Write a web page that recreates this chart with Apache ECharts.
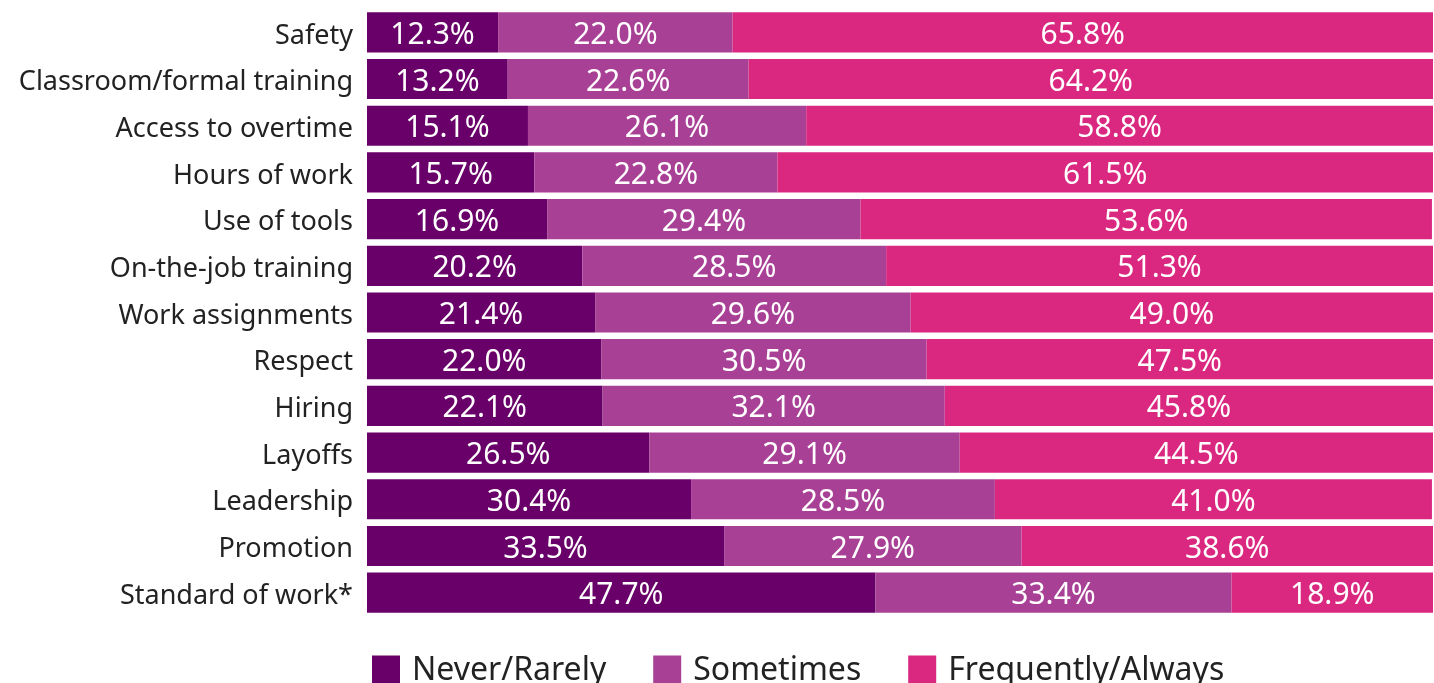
<!DOCTYPE html>
<html><head><meta charset="utf-8">
<script src="https://cdn.jsdelivr.net/npm/echarts@6/dist/echarts.min.js"></script>
<style>html,body{margin:0;padding:0;background:#fff}#c{width:1434px;height:683px}</style>
</head><body><div id="c"></div>
<script>
const categories = ["Safety","Classroom/formal training","Access to overtime","Hours of work","Use of tools","On-the-job training","Work assignments","Respect","Hiring","Layoffs","Leadership","Promotion","Standard of work*"];
const neverRarely = [12.3,13.2,15.1,15.7,16.9,20.2,21.4,22.0,22.1,26.5,30.4,33.5,47.7];
const sometimes = [22.0,22.6,26.1,22.8,29.4,28.5,29.6,30.5,32.1,29.1,28.5,27.9,33.4];
const frequently = [65.8,64.2,58.8,61.5,53.6,51.3,49.0,47.5,45.8,44.5,41.0,38.6,18.9];
const seriesNames = ["Never/Rarely","Sometimes","Frequently/Always"];
const colors = ["#690069","#a84196","#da2880"];
const font = "Noto Sans";
const chart = echarts.init(document.getElementById('c'));
const mk = (name, data, color) => ({
  name, type: 'bar', stack: 'total', data, barCategoryGap: '14%',
  itemStyle: { color },
  label: { show: true, position: 'inside', color: '#fff', fontSize: 30, fontFamily: font,
    offset: [0, 3],
    formatter: p => p.value.toFixed(1) + '%' }
});
chart.setOption({
  animation: false,
  color: colors,
  grid: { left: 367, right: 1, top: 9, bottom: 67, containLabel: false },
  xAxis: { type: 'value', min: 0, max: 100, show: false },
  yAxis: { type: 'category', data: categories, inverse: true,
    axisLine: { show: false }, axisTick: { show: false },
    axisLabel: { margin: 14, formatter: v => '{a|' + v + '}',
      rich: { a: { fontSize: 27, color: '#222', fontFamily: font, padding: [7, 0, 0, 0] } } } },
  legend: { left: 367, top: 650, icon: 'rect', itemWidth: 28, itemHeight: 31, itemGap: 47,
    textStyle: { fontSize: 32, color: '#222', fontFamily: font, padding: [0,0,0,7] },
    data: seriesNames },
  series: [mk(seriesNames[0], neverRarely, colors[0]), mk(seriesNames[1], sometimes, colors[1]), mk(seriesNames[2], frequently, colors[2])]
});
</script></body></html>
